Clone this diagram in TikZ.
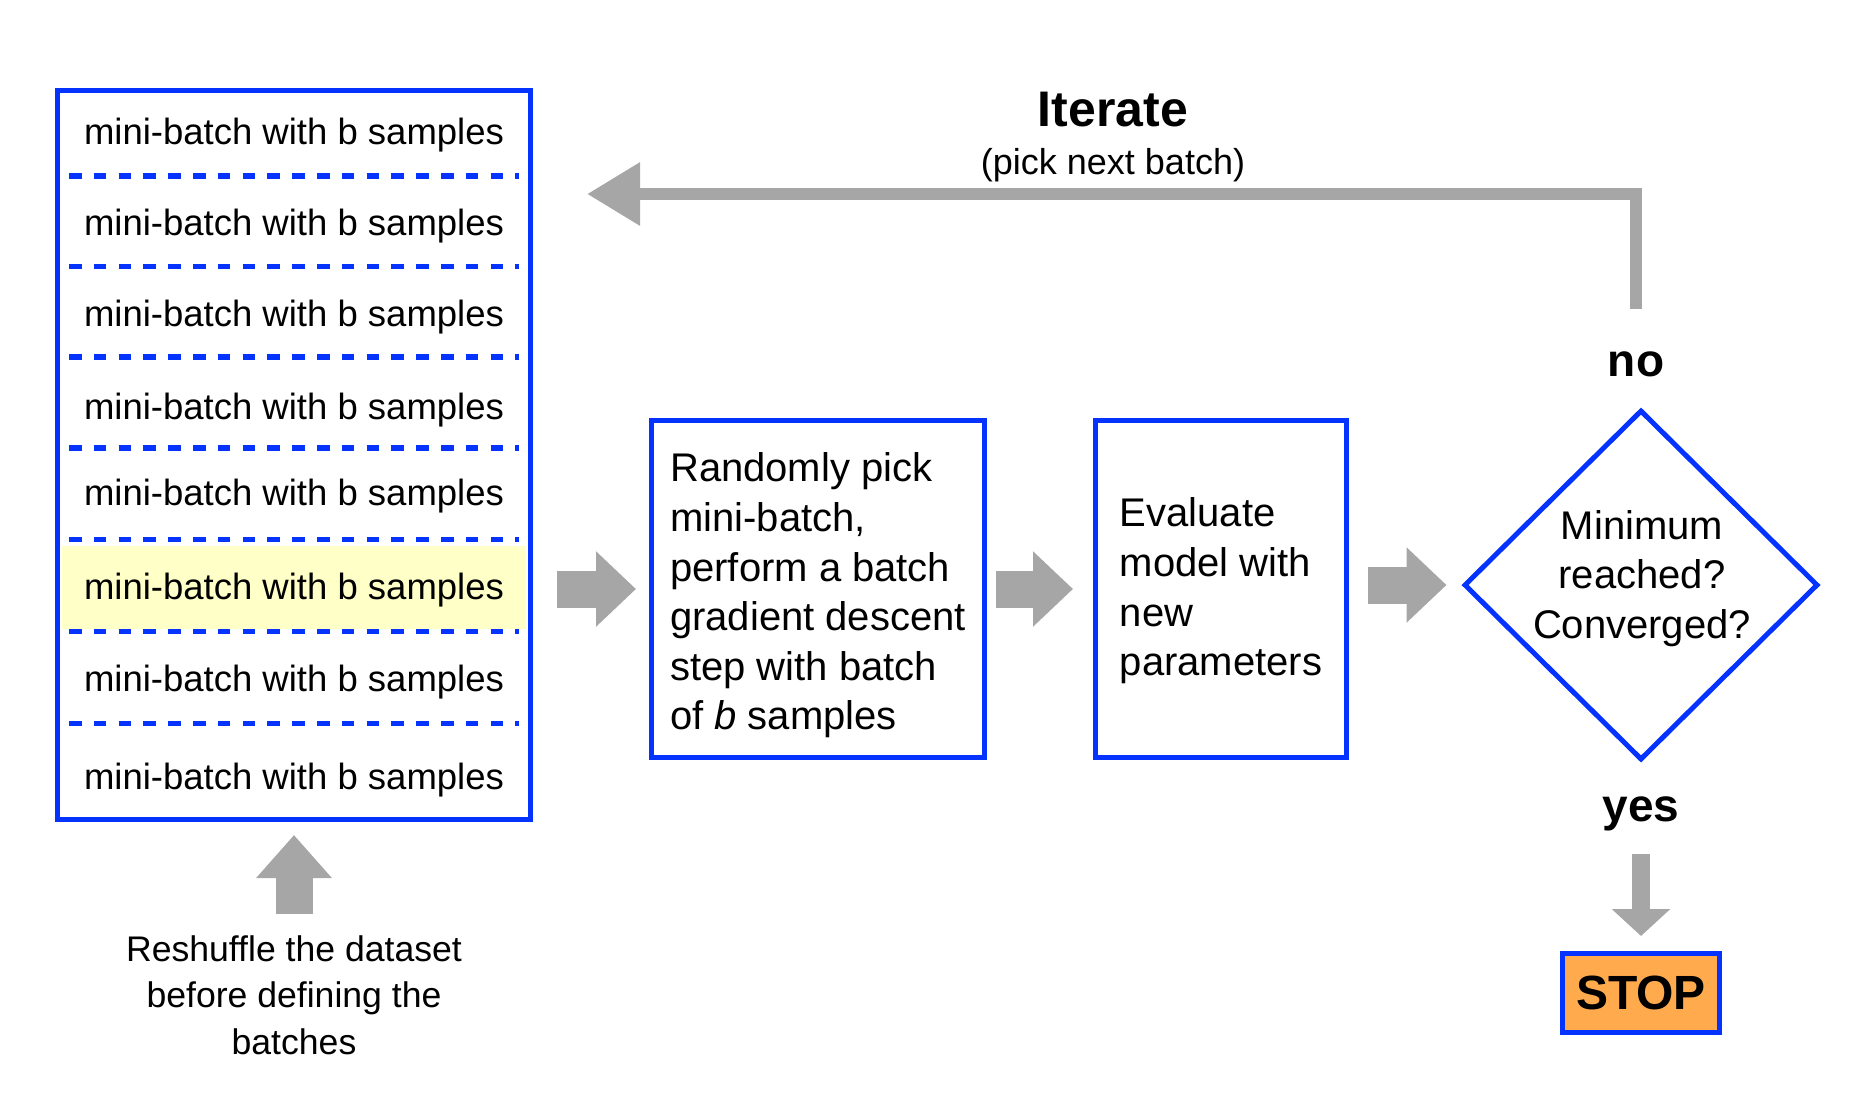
\documentclass[tikz,border=0pt]{standalone}
\usepackage{fontspec}
\setmainfont{Liberation Sans}
\usetikzlibrary{arrows.meta,shapes.geometric}
\definecolor{bblue}{RGB}{4,51,255}
\definecolor{agray}{RGB}{166,166,166}
\definecolor{hyellow}{RGB}{255,255,200}
\definecolor{sorange}{RGB}{255,170,77}
\begin{document}
\begin{tikzpicture}[x=0.5pt,y=-0.5pt,
  bluebox/.style={draw=bblue,line width=2.5pt,inner sep=0pt},
  rowtext/.style={font=\fontsize{18.25}{22}\selectfont,inner sep=0pt},
  boxtext/.style={font=\fontsize{20}{24.8}\selectfont,align=left,inner sep=0pt},
  sepline/.style={draw=bblue,line width=2.75pt,dash pattern=on 6.3pt off 6.1pt},
  blk/.style={draw=agray,line width=18.5pt,-{Triangle[width=36.5pt,length=20pt]}},
  blkup/.style={draw=agray,line width=18.5pt,-{Triangle[width=36.5pt,length=21.5pt]}},
  blkthin/.style={draw=agray,line width=8.75pt,-{Triangle[width=28.5pt,length=13.5pt]}},
  iterline/.style={draw=agray,line width=6.25pt,-{Triangle[width=30pt,length=26.5pt]}},
  boldlab/.style={font=\bfseries\fontsize{23}{27}\selectfont,inner sep=0pt}
]
\useasboundingbox (0,0) rectangle (1849,1105);

% left batch box
\node[bluebox,minimum width=236.5pt,minimum height=364.5pt] (batches) at (294,455) {};
\node[fill=hyellow,minimum width=232pt,minimum height=41.5pt,inner sep=0pt] (hl) at (294,587.5) {};
\node[rowtext] (r1) at (294,135.5) {mini-batch with b samples};
\node[rowtext] (r2) at (294,226.5) {mini-batch with b samples};
\node[rowtext] (r3) at (294,317.5) {mini-batch with b samples};
\node[rowtext] (r4) at (294,410.5) {mini-batch with b samples};
\node[rowtext] (r5) at (294,496) {mini-batch with b samples};
\node[rowtext] (r6) at (294,590.5) {mini-batch with b samples};
\node[rowtext] (r7) at (294,682.5) {mini-batch with b samples};
\node[rowtext] (r8) at (294,780) {mini-batch with b samples};
\foreach \yy in {176,266.5,357,448,539.5,631.5,723.5}{
  \draw[sepline] (69,\yy) -- (519,\yy);
}

% reshuffle
\node[font=\fontsize{17.8}{23.2}\selectfont,align=center,inner sep=0pt] (reshuffle) at (294,995) {Reshuffle the dataset\\before defining the\\batches};
\draw[blkup] ([yshift=-46pt]batches.south) -- ([yshift=-6.5pt]batches.south);

% process boxes
\node[bluebox,minimum width=166.5pt,minimum height=168.5pt] (pick) at (818,589) {};
\node[boxtext] (picktext) at (818,595.5)
  {Randomly pick\\mini-batch,\\perform a batch\\gradient descent\\step with batch\\of \textit{b} samples};
\node[bluebox,minimum width=125.5pt,minimum height=168.5pt] (eval) at (1221,589) {};
\node[boxtext] (evaltext) at (1221,591)
  {Evaluate\\model with\\new\\parameters};

% decision
\node[draw=bblue,line width=2.5pt,diamond,minimum width=177pt,minimum height=175pt,inner sep=0pt] (conv) at (1641,585) {};
\node[font=\fontsize{20}{24.8}\selectfont,align=center,inner sep=0pt] (convtext) at (1642,578.5) {Minimum\\reached?\\Converged?};

% block arrows
\draw[blk] ([xshift=12pt]batches.east |- pick.west) -- ([xshift=-6.5pt]pick.west);
\draw[blk] ([xshift=4.5pt]pick.east) -- ([xshift=-10pt]eval.west);
\draw[blk] ([xshift=9.5pt]eval.east |- conv.west) -- ([xshift=-7.5pt]conv.west);

% labels
\node[boldlab] (no) at (1636,364.5) {no};
\node[boldlab] (yes) at (1641,814) {yes};
\node[font=\bfseries\fontsize{25}{30}\selectfont,inner sep=0pt] (iter) at (1113,110) {Iterate};
\node[font=\fontsize{18}{22}\selectfont,inner sep=0pt] (iternote) at (1113,165) {(pick next batch)};

% stop
\node[draw=bblue,fill=sorange,line width=2.5pt,minimum width=78.5pt,minimum height=39.5pt,inner sep=0pt,font=\bfseries\fontsize{24}{28}\selectfont] (stop) at (1641,993) {STOP};
\draw[blkthin] ([yshift=-20pt]yes.center) -- ([yshift=7.5pt]stop.north);

% iterate loop
\coordinate (nofoot) at ([yshift=28pt]no.center);
\coordinate (itertip) at (587,194);
\draw[iterline] (nofoot) |- (itertip);
\end{tikzpicture}
\end{document}
